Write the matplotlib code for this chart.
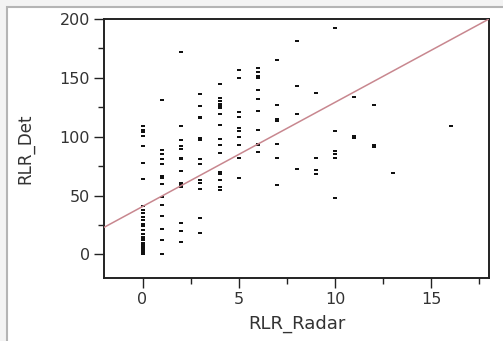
import matplotlib
matplotlib.use("Agg")
import matplotlib.pyplot as plt
from matplotlib.patches import Rectangle
from matplotlib.ticker import MultipleLocator
import numpy as np

plt.rcParams['font.family'] = ['DejaVu Sans']

# RLR_Radar value -> list of RLR_Det values
radar_levels = [0, 1, 2, 3, 4, 5, 6, 7, 8, 9, 10, 11, 12, 13, 16]
det_values = [
    [109, 106, 104, 101, 92, 78, 64, 41, 38, 35, 32, 29, 26, 24, 21,
     17, 15, 13, 12, 10, 8, 7, 6, 5, 4, 3, 2, 1, 0],
    [131, 89, 85, 81, 77, 67, 65, 60, 49, 42, 33, 22, 12, 0],
    [172, 109, 97, 92, 90, 82, 81, 71, 61, 59, 57, 27, 20, 11],
    [136, 126, 117, 116, 99, 97, 81, 77, 63, 61, 56, 31, 18],
    [145, 133, 130, 128, 126, 124, 119, 110, 98, 93, 86, 70, 68, 63, 57, 55],
    [157, 150, 121, 117, 107, 105, 100, 93, 82, 65],
    [158, 155, 152, 150, 140, 132, 122, 106, 94, 93, 87],
    [165, 127, 115, 113, 94, 82, 59],
    [181, 143, 119, 73],
    [137, 82, 72, 68],
    [192, 105, 88, 85, 82, 48],
    [134, 101, 99],
    [127, 93, 91],
    [69],
    [109],
]
fit_intercept = 40.7
fit_slope = 8.85

x_ticks = [0, 5, 10, 15]
y_ticks = [0, 50, 100, 150, 200]

xs = []
ys = []
for lvl, vals in zip(radar_levels, det_values):
    for v in vals:
        xs.append(lvl)
        ys.append(v)

W, H = 503, 341
fig = plt.figure(figsize=(W / 100, H / 100), dpi=100)
fig.patch.set_facecolor('#f3f3f3')
# outer panel with light gray border
panel = Rectangle((7 / W, -0.1), 1.2, (H - 7) / H + 0.1,
                  transform=fig.transFigure, facecolor='white',
                  edgecolor='#b4b4b4', linewidth=1.5, zorder=-10)
fig.patches.append(panel)

ax = fig.add_axes([104 / W, (H - 278) / H, 385 / W, 259 / H])
ax.set_zorder(5)
ax.set_xlim(-2, 18)
ax.set_ylim(-20, 200)

marker = [(-2, -1.1), (2, -1.1), (2, 1.1), (-2, 1.1), (-2, -1.1)]
ax.plot(xs, ys, linestyle='none', marker=marker, markersize=3.1,
        color='#111111', markeredgewidth=0)

lx = np.array([-2, 18])
ax.plot(lx, fit_intercept + fit_slope * lx, color='#c8878f', linewidth=1.1,
        zorder=3)

ax.set_xticks(x_ticks)
ax.set_yticks(y_ticks)
ax.xaxis.set_minor_locator(MultipleLocator(2.5))
ax.yaxis.set_minor_locator(MultipleLocator(25))
ax.tick_params(which='major', length=7, width=1, color='#222222',
               labelsize=11.5, pad=3, direction='out')
ax.tick_params(which='minor', length=4, width=1, color='#222222',
               direction='out')
ax.tick_params(axis='x', labelcolor='#333333')
ax.tick_params(axis='y', labelcolor='#333333')
for s in ax.spines.values():
    s.set_color('#222222')
    s.set_linewidth(1.4)

fig.text(296.5 / W, 1 - 324 / H, 'RLR_Radar', fontsize=13, color='#333333',
         ha='center', va='center')
fig.text(25 / W, 1 - 148.5 / H, 'RLR_Det', fontsize=12, color='#333333',
         ha='center', va='center', rotation=90)

fig.savefig('out.png', dpi=100, facecolor=fig.get_facecolor())
